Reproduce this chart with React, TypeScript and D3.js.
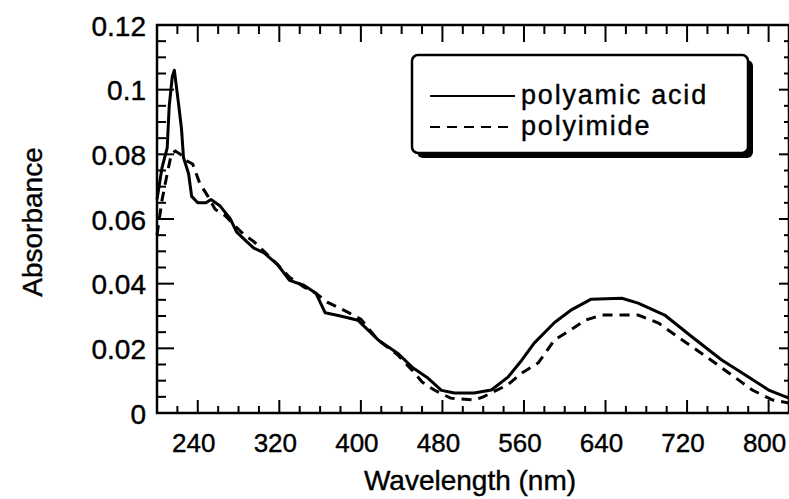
import React from "react";
import * as d3 from "d3";

// Wavelength (nm) and absorbance
const acidWl = [200, 205, 210, 212, 215, 217, 221, 224, 226, 231, 234, 240, 248, 253, 262, 272, 278, 288, 295, 305, 318, 330, 344, 356, 365, 380, 397, 417, 436, 451, 465, 479, 492, 511, 528, 544, 558, 570, 590, 606, 626, 656, 672, 698, 725, 754, 781, 800, 820];
const acidAbs = [0.066, 0.076, 0.082, 0.095, 0.104, 0.106, 0.096, 0.088, 0.079, 0.074, 0.067, 0.065, 0.065, 0.066, 0.064, 0.06, 0.056, 0.053, 0.051, 0.0495, 0.046, 0.041, 0.0395, 0.037, 0.031, 0.03, 0.0287, 0.0226, 0.0185, 0.014, 0.011, 0.007, 0.0062, 0.0062, 0.0071, 0.011, 0.0164, 0.0216, 0.028, 0.0318, 0.0352, 0.0355, 0.034, 0.0303, 0.0235, 0.0164, 0.011, 0.0071, 0.0046];

const imideWl = [200, 205, 210, 214, 218, 223, 229, 235, 242, 250, 257, 267, 276, 286, 295, 305, 318, 330, 344, 356, 367, 387, 400, 417, 436, 451, 460, 472, 488, 511, 520, 544, 558, 574, 590, 606, 620, 636, 672, 692, 711, 734, 761, 784, 804, 820];
const imideAbs = [0.055, 0.066, 0.074, 0.08, 0.081, 0.08, 0.078, 0.077, 0.071, 0.067, 0.063, 0.061, 0.058, 0.055, 0.053, 0.05, 0.046, 0.042, 0.039, 0.037, 0.0343, 0.0312, 0.029, 0.0225, 0.018, 0.013, 0.0096, 0.0071, 0.0046, 0.004, 0.005, 0.0087, 0.0124, 0.0155, 0.0226, 0.0257, 0.0287, 0.0303, 0.0303, 0.0278, 0.0235, 0.0185, 0.0124, 0.0071, 0.004, 0.0031];

const xTickLabels = [240, 320, 400, 480, 560, 640, 720, 800];
const yTickLabels = [0, 0.02, 0.04, 0.06, 0.08, 0.1, 0.12];
const legendNames = ["polyamic acid", "polyimide"];

const W = 789;
const H = 499;
const FONT = "'Liberation Sans', Arial, Helvetica, sans-serif";

export default function App() {
  const left = 157, right = 789, top = 25, bottom = 413;
  const x = d3.scaleLinear().domain([200, 820]).range([left, right]);
  const y = d3.scaleLinear().domain([0, 0.12]).range([bottom, top]);

  const line = d3
    .line<[number, number]>()
    .x((d) => x(d[0]))
    .y((d) => y(d[1]));

  const acid = acidWl.map((w, i) => [w, acidAbs[i]] as [number, number]);
  const imide = imideWl.map((w, i) => [w, imideAbs[i]] as [number, number]);

  // minor ticks every 20 nm, major every 80 nm (on the labelled values)
  const xTicks = d3.range(220, 820, 20);
  const yTicks = d3.range(0.005, 0.12, 0.005);
  const isMajorX = (v: number) => (v - 240) % 80 === 0;
  const isMajorY = (v: number) => Math.abs(v / 0.02 - Math.round(v / 0.02)) < 1e-6;

  const textProps = { fontSize: 28, fill: "#000", stroke: "#000", strokeWidth: 0.4 };

  return (
    <svg
      width={W}
      height={H}
      style={{ position: "absolute", left: 0, top: 0, background: "#fff" }}
      fontFamily={FONT}
    >
      {/* curves */}
      <path d={line(acid) || ""} fill="none" stroke="#000" strokeWidth={3} strokeLinejoin="round" />
      <path d={line(imide) || ""} fill="none" stroke="#000" strokeWidth={3} strokeDasharray="10,7" />

      {/* ticks, all pointing inward */}
      {xTicks.map((v) => {
        const big = isMajorX(v);
        return (
          <g key={"xt" + v} stroke="#000" strokeWidth={2}>
            <line x1={x(v)} x2={x(v)} y1={bottom} y2={bottom - (big ? 13 : 7)} />
            <line x1={x(v)} x2={x(v)} y1={top} y2={top + (big ? 17 : 9)} />
          </g>
        );
      })}
      {yTicks.map((v) => {
        const big = isMajorY(v);
        return (
          <g key={"yt" + v.toFixed(3)} stroke="#000" strokeWidth={2}>
            <line x1={left} x2={left + (big ? 17 : 9)} y1={y(v)} y2={y(v)} />
            <line x1={right} x2={right - (big ? 10 : 5)} y1={y(v)} y2={y(v)} />
          </g>
        );
      })}

      {/* frame */}
      <rect x={left} y={top} width={right - left} height={bottom - top} fill="none" stroke="#000" strokeWidth={2.5} />

      {/* tick labels */}
      {xTickLabels.map((v) => (
        <text key={"xl" + v} x={x(v) - 4} y={452} textAnchor="middle" {...textProps} fontSize={26}>
          {v}
        </text>
      ))}
      {yTickLabels.map((v) => (
        <text key={"yl" + v} x={146} y={y(v) + 1} textAnchor="end" dominantBaseline="central" {...textProps}>
          {v}
        </text>
      ))}

      {/* axis titles */}
      <text x={470} y={490} textAnchor="middle" {...textProps}>
        Wavelength (nm)
      </text>
      <text transform="translate(32,222) rotate(-90)" textAnchor="middle" dominantBaseline="central" {...textProps}>
        Absorbance
      </text>

      {/* legend box with drop shadow */}
      <rect x={417} y={60} width={336} height={98} rx={6} fill="#000" />
      <rect x={412} y={55} width={336} height={98} rx={6} fill="#fff" stroke="#000" strokeWidth={2.5} />
      <line x1={430} x2={515} y1={96} y2={96} stroke="#000" strokeWidth={2} />
      <line x1={430} x2={515} y1={127} y2={127} stroke="#000" strokeWidth={2} strokeDasharray="10,7" />
      <text x={521} y={104} letterSpacing={1.8} {...textProps} fontSize={27}>
        {legendNames[0]}
      </text>
      <text x={521} y={135} letterSpacing={1.8} {...textProps} fontSize={27}>
        {legendNames[1]}
      </text>
    </svg>
  );
}
